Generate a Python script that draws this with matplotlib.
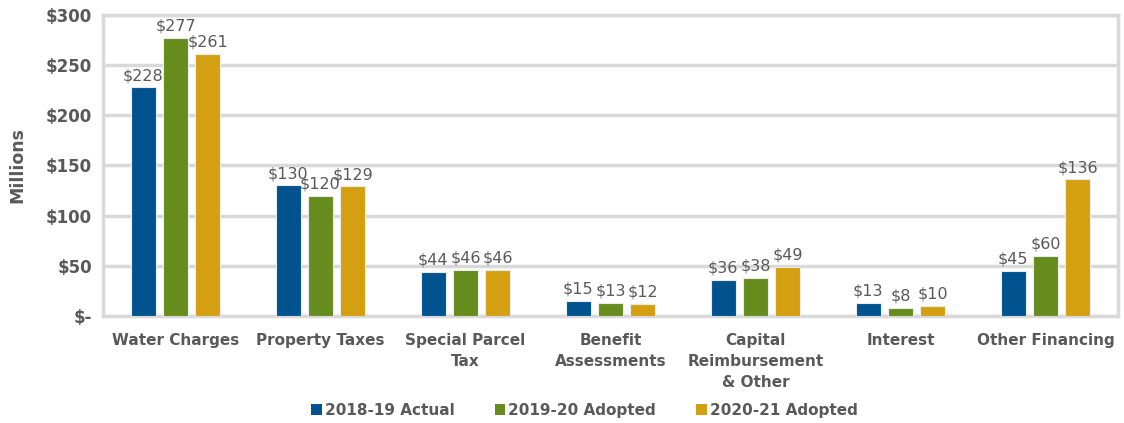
import numpy as np
import matplotlib.pyplot as plt
from matplotlib.patches import Patch

plt.rcParams['font.family'] = ['DejaVu Sans']

categories = ["Water Charges", "Property Taxes", "Special Parcel\nTax", "Benefit\nAssessments",
              "Capital\nReimbursement\n& Other", "Interest", "Other Financing"]
actual_1819 = [228, 130, 44, 15, 36, 13, 45]
adopted_1920 = [277, 120, 46, 13, 38, 8, 60]
adopted_2021 = [261, 129, 46, 12, 49, 10, 136]
series_names = ["2018-19 Actual", "2019-20 Adopted", "2020-21 Adopted"]
colors = ["#00538F", "#668C1D", "#D4A012"]
yticks = [0, 50, 100, 150, 200, 250, 300]
ytick_labels = ["$-", "$50", "$100", "$150", "$200", "$250", "$300"]

txt = "#595959"
grid = "#D9D9D9"

fig = plt.figure(figsize=(11.24, 4.23), dpi=100)
ax = fig.add_axes([0.0916, 0.253, 0.903, 0.712])

x = np.arange(len(categories))
w = 0.172
step = 0.222
for i, vals in enumerate([actual_1819, adopted_1920, adopted_2021]):
    pos = x + (i - 1) * step
    ax.bar(pos, vals, width=w, color=colors[i], edgecolor="#E8ECEF", linewidth=0.8, zorder=3)
    for p, v in zip(pos, vals):
        ax.text(p, v + 4, "$" + str(v), ha="center", va="bottom", fontsize=11.5, color=txt)

ax.set_xlim(-0.5, len(categories) - 0.5)
ax.set_ylim(0, 300)
ax.set_yticks(yticks)
ax.set_yticklabels(ytick_labels, fontsize=12, fontweight="bold", color=txt)
ax.set_xticks(x)
ax.set_xticklabels(categories, fontsize=11, fontweight="bold", color=txt, linespacing=1.5, va="top")
ax.tick_params(length=0, pad=8)
ax.tick_params(axis="x", pad=12)
ax.set_ylabel("Millions", fontsize=12.5, fontweight="bold", color=txt, labelpad=14)

ax.grid(axis="y", color=grid, linewidth=2.5, zorder=0)
for s in ax.spines.values():
    s.set_color(grid)
    s.set_linewidth(2.5)

handles = [Patch(facecolor=c, edgecolor="none") for c in colors]
leg = fig.legend(handles, series_names, loc="center", bbox_to_anchor=(0.52, 0.03), ncol=3,
                 frameon=False, handlelength=0.7, handleheight=0.7, handletextpad=0.2, columnspacing=2.6,
                 prop={"weight": "bold", "size": 11})
for t in leg.get_texts():
    t.set_color(txt)

fig.savefig("out.png", dpi=100)
